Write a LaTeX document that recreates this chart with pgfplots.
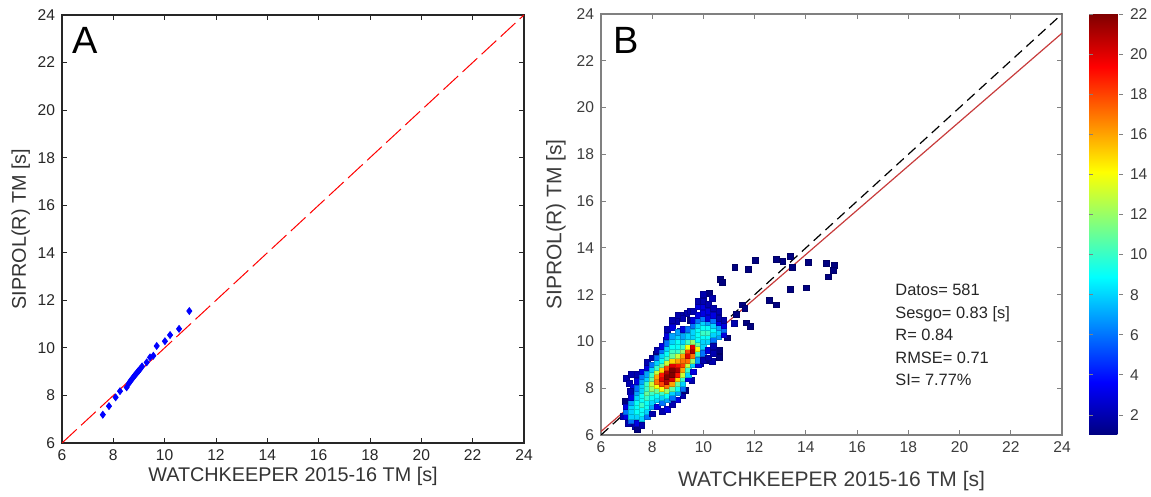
\documentclass[border=0pt]{standalone}
\usepackage{pgfplots}
\pgfplotsset{compat=1.18}
\usepackage{pgfplotstable}
\usepackage{fontspec}
\setmainfont{Liberation Sans}

\definecolor{axgray}{RGB}{128,128,128}
\definecolor{txtgray}{RGB}{60,60,60}
\definecolor{fitred}{RGB}{200,60,60}

% panel A: quantiles
\pgfplotstableread{
x y
7.59 7.19
7.83 7.55
8.09 7.92
8.26 8.18
8.52 8.34
8.60 8.50
8.65 8.58
8.70 8.65
8.75 8.72
8.80 8.80
8.85 8.86
8.90 8.92
8.95 9.00
9.00 9.05
9.05 9.12
9.12 9.22
9.30 9.39
9.43 9.60
9.56 9.67
9.69 10.08
10.01 10.28
10.21 10.54
10.56 10.80
10.96 11.55
}\qq

% panel B: points with density
\pgfplotstableread{
x y c
6.87 6.78 2
7.00 8.42 2
7.10 8.20 2
7.26 8.06 3
7.20 6.71 3
7.07 6.50 2
7.33 6.36 2
7.42 6.23 1
7.91 8.92 2
8.30 9.20 3
8.37 9.63 2
8.96 10.84 2
9.09 11.13 2
9.35 11.20 2
9.48 11.27 2
9.11 10.44 3
10.22 12.05 1
10.65 12.65 1
10.75 12.54 1
11.23 13.17 1
11.75 13.08 1
12.02 13.45 1
12.84 13.51 1
13.10 13.41 1
13.41 13.62 1
13.46 13.17 1
14.11 13.38 1
14.79 13.34 1
15.10 13.26 1
15.07 13.05 1
14.88 12.76 1
13.38 12.24 1
14.03 12.29 1
12.57 11.77 1
12.84 11.56 1
11.53 11.56 1
11.62 11.41 1
11.30 11.15 1
11.68 10.79 1
11.83 10.65 1
11.20 10.76 2
10.62 9.63 1
10.62 9.32 1
10.13 9.20 1
9.87 9.06 2
8.40 7.00 2
8.60 7.10 3
8.80 7.30 2
9.00 7.50 3
9.20 7.70 2
6.95 7.45 1
7.15 7.85 2
8.15 9.45 1
8.55 10.05 2
9.50 10.90 1
10.35 11.85 2
10.95 10.15 1
10.35 9.15 2
9.55 8.35 2
9.30 7.90 1
7.0 6.8 3
7.0 7.0 6
7.0 7.2 3
7.2 6.6 6
7.2 6.8 8
7.2 7.0 8
7.2 7.2 8
7.2 7.4 7
7.2 7.6 3
7.2 8.6 2
7.4 6.5 3
7.4 6.8 8
7.4 7.0 9
7.4 7.2 9
7.4 7.4 9
7.4 7.6 8
7.4 7.8 7
7.4 8.0 6
7.4 8.3 3
7.4 8.6 2
7.6 6.4 2
7.6 6.7 8
7.6 6.9 9
7.6 7.1 9
7.6 7.3 10
7.6 7.5 9
7.6 7.7 9
7.6 7.9 8
7.6 8.1 8
7.6 8.3 7
7.6 8.5 6
7.6 8.7 3
7.8 6.8 6
7.8 7.0 8
7.8 7.2 9
7.8 7.4 9
7.8 7.6 10
7.8 7.8 11
7.8 8.0 10
7.8 8.2 10
7.8 8.4 8
7.8 8.6 7
7.8 8.9 3
7.8 9.1 2
8.0 6.9 2
8.0 7.2 7
8.0 7.4 8
8.0 7.6 9
8.0 7.8 10
8.0 8.0 12
8.0 8.2 13
8.0 8.4 11
8.0 8.6 10
8.0 8.8 8
8.0 9.0 6
8.0 9.3 2
8.2 7.2 3
8.2 7.5 8
8.2 7.7 9
8.2 7.9 11
8.2 8.1 14
8.2 8.3 17
8.2 8.5 16
8.2 8.7 13
8.2 8.9 10
8.2 9.1 8
8.2 9.3 6
8.2 9.6 2
8.4 7.4 6
8.4 7.6 8
8.4 7.8 10
8.4 8.0 14
8.4 8.2 18
8.4 8.4 20
8.4 8.6 19
8.4 8.8 15
8.4 9.0 11
8.4 9.2 9
8.4 9.4 8
8.4 9.6 6
8.4 9.8 3
8.6 7.5 7
8.6 7.7 9
8.6 7.9 12
8.6 8.1 17
8.6 8.3 21
8.6 8.5 22
8.6 8.7 21
8.6 8.9 18
8.6 9.1 13
8.6 9.3 10
8.6 9.5 9
8.6 9.7 8
8.6 9.9 6
8.6 10.2 3
8.6 10.5 2
8.8 7.6 6
8.8 7.8 8
8.8 8.0 11
8.8 8.2 16
8.8 8.4 20
8.8 8.6 22
8.8 8.8 22
8.8 9.0 20
8.8 9.2 15
8.8 9.4 11
8.8 9.6 10
8.8 9.8 9
8.8 10.0 8
8.8 10.2 7
8.8 10.6 3
8.8 10.9 2
9.0 7.8 7
9.0 8.0 9
9.0 8.2 11
9.0 8.4 15
9.0 8.6 19
9.0 8.8 21
9.0 9.0 19
9.0 9.2 16
9.0 9.4 13
9.0 9.6 10
9.0 9.8 9
9.0 10.0 9
9.0 10.2 8
9.0 10.4 7
9.0 11.1 2
9.2 8.0 6
9.2 8.2 8
9.2 8.4 10
9.2 8.6 13
9.2 8.8 16
9.2 9.0 18
9.2 9.2 17
9.2 9.4 16
9.2 9.6 12
9.2 9.8 10
9.2 10.0 8
9.2 10.2 7
9.2 10.5 3
9.2 11.0 2
9.4 8.4 3
9.4 8.6 8
9.4 8.8 10
9.4 9.0 13
9.4 9.2 17
9.4 9.4 20
9.4 9.6 18
9.4 9.8 14
9.4 10.0 10
9.4 10.2 8
9.4 10.5 6
9.6 8.7 3
9.6 9.0 8
9.6 9.2 12
9.6 9.4 17
9.6 9.6 21
9.6 9.8 20
9.6 10.0 12
9.6 10.2 8
9.6 10.4 8
9.6 10.7 6
9.6 10.9 3
9.6 11.3 2
9.8 9.0 3
9.8 9.2 7
9.8 9.5 10
9.8 9.7 14
9.8 9.9 11
9.8 10.1 9
9.8 10.3 9
9.8 10.5 9
9.8 10.7 8
9.8 10.9 6
9.8 11.1 3
9.8 11.5 3
9.8 11.7 2
10.0 9.2 2
10.0 9.5 6
10.0 9.8 8
10.0 10.0 8
10.0 10.2 9
10.0 10.4 10
10.0 10.6 9
10.0 10.8 8
10.0 11.0 6
10.0 11.2 3
10.0 11.5 3
10.0 11.7 2
10.0 12.0 2
10.2 9.3 2
10.2 9.6 3
10.2 10.0 8
10.2 10.2 9
10.2 10.4 10
10.2 10.6 9
10.2 10.8 7
10.2 11.0 3
10.2 11.3 3
10.2 11.6 2
10.4 9.5 2
10.4 9.8 2
10.4 10.1 6
10.4 10.3 8
10.4 10.5 9
10.4 10.7 8
10.4 10.9 6
10.4 11.1 3
10.4 11.4 2
10.6 10.2 7
10.6 10.4 8
10.6 10.6 7
10.6 10.8 3
10.6 11.0 2
10.6 11.3 2
10.8 10.3 3
10.8 10.5 6
10.8 10.7 3
10.8 10.9 2
}\dens

\begin{document}
\begin{tikzpicture}
\useasboundingbox (-31pt,-27pt) rectangle (544.5pt,221.5pt);
\pgfplotsset{
  panel/.style={
    scale only axis,
    xmin=6, xmax=24, ymin=6, ymax=24,
    xtick={6,8,...,24}, ytick={6,8,...,24},
    tick align=inside,
    major tick length=2.5pt,
    /pgf/number format/assume math mode=true,
    tick label style={font=\fontsize{7.8}{8}\selectfont},
    clip=true,
  }
}

% ---- A ----
\begin{axis}[panel,
  at={(0,0)}, anchor=south west,
  width=231pt, height=214pt,
  axis line style={black!85, line width=0.6pt},
  every tick/.style={black!85, line width=0.5pt},
  tick label style={text=black!85},
  xlabel={WATCHKEEPER 2015-16 TM [s]},
  ylabel={SIPROL(R) TM [s]},
  label style={font=\fontsize{9.9}{11}\selectfont, text=black!80},
  xlabel style={at={(axis description cs:0.5,-0.078)}, anchor=center},
  ylabel style={at={(axis description cs:-0.089,0.5)}, anchor=center},
]
\addplot[red, line width=0.5pt, dash pattern=on 10pt off 3pt] coordinates {(6,6) (24,24)};
\addplot[only marks, mark=diamond*, mark size=1.7pt, blue, mark options={fill=blue}] table[x=x, y=y] {\qq};
\node[font=\fontsize{19}{20}\selectfont, anchor=center] at (axis cs:6.92,22.91) {A};
\end{axis}

% ---- B ----
\begin{axis}[panel,
  at={(269.5pt,4pt)}, anchor=south west,
  width=230.5pt, height=210.5pt,
  axis line style={axgray, line width=0.6pt},
  every tick/.style={axgray, line width=0.5pt},
  tick label style={text=txtgray},
  xlabel={WATCHKEEPER 2015-16 TM [s]},
  ylabel={SIPROL(R) TM [s]},
  label style={font=\fontsize{10.5}{12}\selectfont, text=txtgray},
  xlabel style={at={(axis description cs:0.5,-0.109)}, anchor=center},
  ylabel style={at={(axis description cs:-0.098,0.5)}, anchor=center},
  colormap/jet,
  point meta min=1, point meta max=22,
  colorbar,
  colorbar shift/.style={xshift=13.5pt},
  colorbar style={
    at={(parent axis.north east)}, anchor=north west,
    width=17pt,
    ytick={2,4,...,22},
    tick align=inside,
    major tick length=2pt,
    axis line style={draw=none},
    every tick/.style={axgray, line width=0.4pt},
    /pgf/number format/assume math mode=true,
    yticklabel style={font=\fontsize{7.8}{8}\selectfont, text=txtgray},
  },
]
\addplot[scatter, only marks, mark=square*, mark size=1.45pt, scatter src=explicit]
  table[x=x, y=y, meta=c] {\dens};
\addplot[fitred, line width=0.6pt] coordinates {(6,6.15) (24,23.18)};
\addplot[black, line width=0.6pt, dash pattern=on 5pt off 3pt] coordinates {(6,6) (24,24)};
\node[font=\fontsize{19}{20}\selectfont, anchor=center] at (axis cs:6.98,22.88) {B};
\node[font=\fontsize{8.2}{11.25}\selectfont, text=black!85, align=left, anchor=north west, inner sep=0pt]
  at (axis cs:17.48,12.45) {Datos= 581\\Sesgo= 0.83 [s]\\R= 0.84\\RMSE= 0.71\\SI= 7.77\%};
\end{axis}
\end{tikzpicture}
\end{document}
